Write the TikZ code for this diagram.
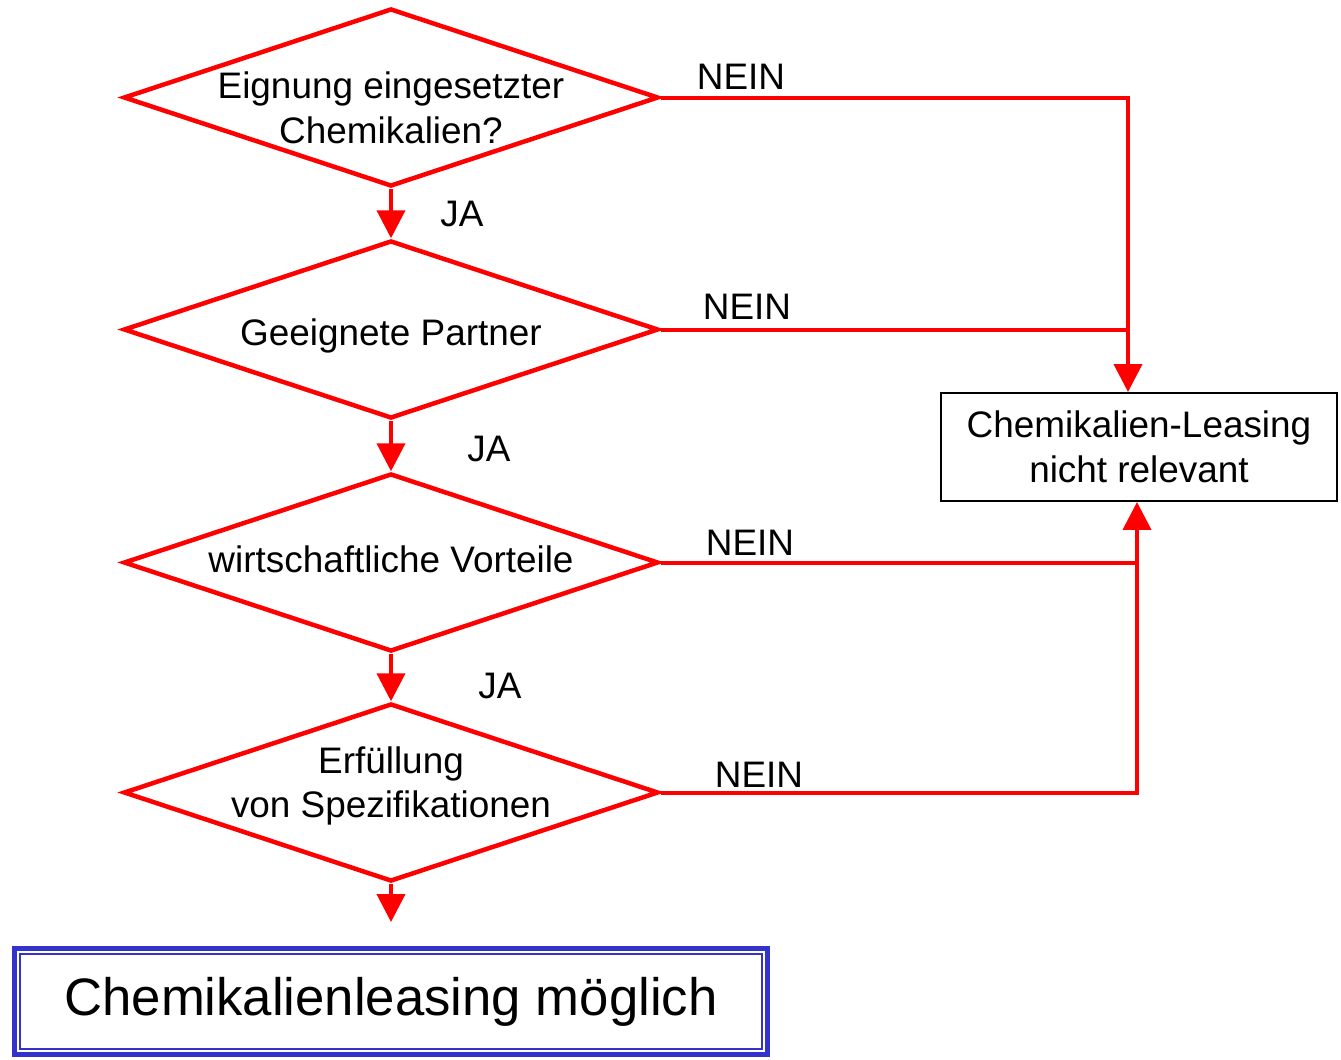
\documentclass[tikz,border=0pt]{standalone}
\usepackage{fontspec}
\setmainfont{Liberation Sans}
\usetikzlibrary{shapes.geometric,arrows.meta}
\definecolor{boxblau}{RGB}{51,51,204}
\begin{document}
\begin{tikzpicture}[x = .02cm, y = -.02cm,
	txt/.style = {font = \fontsize{21}{25.5}\selectfont, align = center},
	frage/.style = {diamond, draw = red, line width = .09cm, minimum width = 10.7cm, minimum height = 3.56cm, inner sep = 0pt},
	linie/.style = {draw = red, line width = .08cm},
	pfeil/.style = {linie, -{Triangle[length = .56cm, width = .56cm]}}]
	\useasboundingbox (0,0) rectangle (1341,1059);
	% Entscheidungen
	\node[frage, label = {[txt, yshift = -.2cm]center:{Eignung eingesetzter\\Chemikalien?}}] (d1) at (391,97.5) {};
	\node[frage, label = {[txt, yshift = -.12cm]center:{Geeignete Partner}}] (d2) at (391,329.5) {};
	\node[frage, label = {[txt, yshift = .07cm]center:{wirtschaftliche Vorteile}}] (d3) at (391,562.5) {};
	\node[frage, label = {[txt, yshift = .13cm]center:{Erfüllung\\von Spezifikationen}}] (d4) at (391,792.5) {};
	\node[draw, line width = .04cm, minimum width = 7.92cm, minimum height = 2.16cm, txt] (nr) at (1139,447) {Chemikalien-Leasing\\nicht relevant};
	\node[draw = boxblau, line width = .1cm, minimum width = 15.06cm, minimum height = 2.12cm, font = \fontsize{30}{36}\selectfont] (ok) at (391,1001.5) {Chemikalienleasing möglich};
	\draw[boxblau, line width = .03cm] ([shift = {(.16cm,-.16cm)}]ok.north west) rectangle ([shift = {(-.16cm,.16cm)}]ok.south east);
	% JA
	\draw[pfeil] (d1.south)--(d2.north);
	\draw[pfeil] (d2.south)--(d3.north);
	\draw[pfeil] (d3.south)--(d4.north);
	\coordinate (ende) at (391,922);
	\draw[pfeil] (d4.south)--(ende);
	\node[txt] (ja1) at (462,214) {JA};
	\node[txt] (ja2) at (489,449) {JA};
	\node[txt] (ja3) at (500,686) {JA};
	% NEIN
	\coordinate (k1) at (1128,97.5);
	\coordinate (k2) at (1137,792.5);
	\draw[pfeil] (d1.east)--(k1)--(k1 |- nr.north);
	\draw[linie] (d2.east)--(d2.east -| k1);
	\draw[pfeil] (d4.east)--(k2)--(k2 |- nr.south);
	\draw[linie] (d3.east)--(d3.east -| k2);
	\node[txt] (nein1) at (741,77) {NEIN};
	\node[txt] (nein2) at (747,307) {NEIN};
	\node[txt] (nein3) at (750,543) {NEIN};
	\node[txt] (nein4) at (759,775) {NEIN};
\end{tikzpicture}
\end{document}
